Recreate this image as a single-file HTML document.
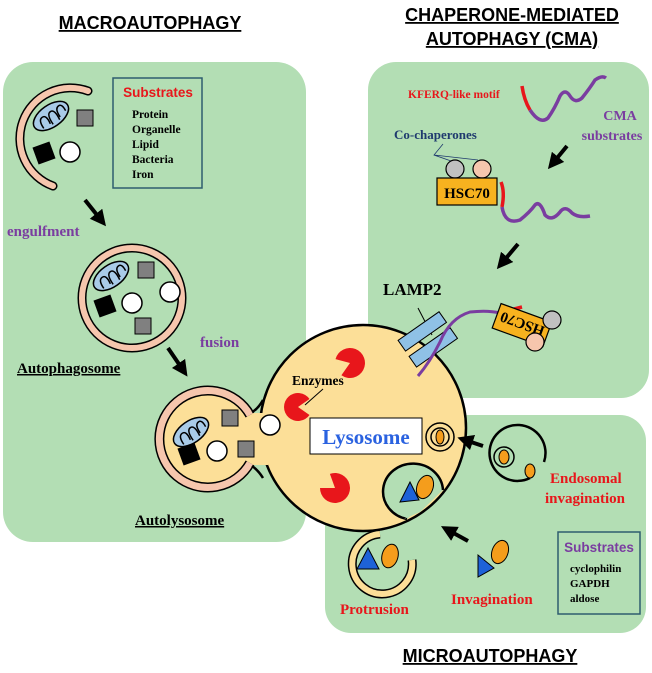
<!DOCTYPE html>
<html><head><meta charset="utf-8"><style>
body{margin:0;background:#fff}
svg{display:block}
.t{font-family:"Liberation Serif",serif;font-weight:bold}
.h{font-family:"Liberation Sans",sans-serif;font-weight:bold;font-size:18px;text-decoration:underline}
</style></head><body>
<svg width="652" height="673" viewBox="0 0 652 673" xmlns="http://www.w3.org/2000/svg">
<defs>
<marker id="ar" markerWidth="4" markerHeight="4" refX="2" refY="2" orient="auto" markerUnits="strokeWidth"><path d="M0,0L4,2L0,4z" fill="#000"/></marker>
<g id="mito"><ellipse cx="0" cy="0" rx="20" ry="11" fill="#a9cbe8" stroke="#000" stroke-width="1.5"/><path d="M-13,6 q0,-10 5,-10 q5,0 3,10 M-3,8 q0,-12 5,-12 q5,0 3,12 M7,6 q0,-10 5,-10 q4,0 3,8" fill="none" stroke="#000" stroke-width="1.5"/></g>
</defs>
<text x="150" y="29" text-anchor="middle" class="h">MACROAUTOPHAGY</text>
<text x="512" y="21" text-anchor="middle" class="h">CHAPERONE-MEDIATED</text>
<text x="512" y="45" text-anchor="middle" class="h">AUTOPHAGY (CMA)</text>
<text x="490" y="662" text-anchor="middle" class="h">MICROAUTOPHAGY</text>
<!-- panels -->
<rect x="3" y="62" width="303" height="480" rx="30" fill="#b3deb4"/>
<rect x="368" y="62" width="281" height="336" rx="28" fill="#b3deb4"/>
<rect x="325" y="415" width="321" height="218" rx="26" fill="#b3deb4"/>
<!-- phagophore -->
<path d="M88,91 A48,48 0 1,0 53,186" fill="none" stroke="#000" stroke-width="9" stroke-linecap="round"/>
<path d="M88,91 A48,48 0 1,0 53,186" fill="none" stroke="#f6c6ad" stroke-width="6" stroke-linecap="round"/>
<use href="#mito" transform="translate(51,116) rotate(-35)"/>
<rect x="77" y="110" width="16" height="16" fill="#808080" stroke="#000"/>
<rect x="35" y="144" width="18" height="18" fill="#000" transform="rotate(-20 44 153)"/>
<circle cx="70" cy="152" r="10" fill="#fff" stroke="#000" stroke-width="1.5"/>
<rect x="113" y="78" width="89" height="110" fill="none" stroke="#2e5d6e" stroke-width="1.5"/>
<text x="158" y="97" text-anchor="middle" font-family="Liberation Sans,sans-serif" font-weight="bold" font-size="13.5" fill="#e8161b">Substrates</text>
<g class="t" font-size="11.5"><text x="132" y="118">Protein</text><text x="132" y="133">Organelle</text><text x="132" y="148">Lipid</text><text x="132" y="163">Bacteria</text><text x="132" y="178">Iron</text></g>
<line x1="85" y1="200" x2="101" y2="220" stroke="#000" stroke-width="4" marker-end="url(#ar)"/>
<text x="7" y="236" class="t" font-size="15" fill="#7a3da0">engulfment</text>
<!-- autophagosome -->
<circle cx="132" cy="298" r="50" fill="#b3deb4" stroke="#000" stroke-width="9"/>
<circle cx="132" cy="298" r="50" fill="none" stroke="#f6c6ad" stroke-width="6"/>
<use href="#mito" transform="translate(111,276) rotate(-35)"/>
<rect x="138" y="262" width="16" height="16" fill="#808080" stroke="#000"/>
<circle cx="170" cy="292" r="10" fill="#fff" stroke="#000" stroke-width="1.5"/>
<circle cx="132" cy="303" r="10" fill="#fff" stroke="#000" stroke-width="1.5"/>
<rect x="96" y="297" width="18" height="18" fill="#000" transform="rotate(-20 105 306)"/>
<rect x="135" y="318" width="16" height="16" fill="#808080" stroke="#000"/>
<text x="17" y="373" class="t" font-size="15" text-decoration="underline">Autophagosome</text>
<text x="200" y="347" class="t" font-size="15" fill="#7a3da0">fusion</text>
<line x1="168" y1="348" x2="183" y2="370" stroke="#000" stroke-width="4" marker-end="url(#ar)"/>
<!-- lysosome -->
<circle cx="363" cy="428" r="103" fill="#fcdf98" stroke="#000" stroke-width="2.5"/>
<circle cx="208" cy="439" r="45" fill="#fcdf98"/>
<rect x="240" y="413" width="28" height="52" fill="#fcdf98"/>
<path d="M250,415 A48.5,48.5 0 1,0 250,463" fill="none" stroke="#000" stroke-width="10"/>
<path d="M250,415 A48.5,48.5 0 1,0 250,463" fill="none" stroke="#f6c6ad" stroke-width="7"/>
<path d="M252,412 Q258,409 263,400 M252,466 Q258,470 263,478" fill="none" stroke="#000" stroke-width="2.5"/>
<use href="#mito" transform="translate(191,432) rotate(-35)"/>
<rect x="222" y="410" width="16" height="16" fill="#808080" stroke="#000"/>
<rect x="238" y="441" width="16" height="16" fill="#808080" stroke="#000"/>
<circle cx="217" cy="451" r="10" fill="#fff" stroke="#000" stroke-width="1.5"/>
<rect x="180" y="445" width="18" height="18" fill="#000" transform="rotate(-20 189 454)"/>
<circle cx="270" cy="425" r="10" fill="#fff" stroke="#000" stroke-width="1.5"/>
<text x="135" y="525" class="t" font-size="15" text-decoration="underline">Autolysosome</text>
<!-- enzymes -->
<g fill="#e8161b">
<path d="M350,363 L335.5,359.1 A15,15 0 1,1 341.4,375.3 Z"/>
<path d="M298,407 L309.5,415 A14,14 0 1,1 309.5,399 Z"/>
<path d="M335,488 L329.9,473.9 A15,15 0 1,1 320,488 Z"/>
</g>
<text x="292" y="385" class="t" font-size="13.5">Enzymes</text>
<line x1="323" y1="389" x2="305" y2="405" stroke="#000" stroke-width="1"/>
<rect x="310" y="418" width="112" height="36" fill="#fff" stroke="#000" stroke-width="1"/>
<text x="366" y="444" text-anchor="middle" class="t" font-size="21" fill="#2a62e0">Lysosome</text>
<!-- micro in-lysosome vesicle -->
<circle cx="440" cy="437" r="14" fill="#fcdf98" stroke="#000" stroke-width="1.5"/>
<circle cx="440" cy="437" r="9" fill="none" stroke="#000" stroke-width="1.5"/>
<ellipse cx="440" cy="437" rx="4" ry="7" fill="#f59d1c" stroke="#000" stroke-width="1"/>
<!-- invagination pocket -->
<path d="M443,490 A30,28 0 1,0 407,519" fill="#b3deb4" stroke="#000" stroke-width="2.5"/>
<path d="M404,519 L420,512 L443,490" fill="#b3deb4"/>
<polygon points="410,482 400,502 419,500" fill="#1e62d8" stroke="#000"/>
<ellipse cx="425" cy="487" rx="8" ry="12" transform="rotate(20 425 487)" fill="#f59d1c" stroke="#000"/>
<!-- protrusion -->
<path d="M412,560 A30,30 0 1,1 380,534" fill="none" stroke="#000" stroke-width="9"/>
<path d="M412,560 A30,30 0 1,1 380,534" fill="none" stroke="#fcdf98" stroke-width="6"/>
<polygon points="368,548 357,569 379,569" fill="#1e62d8" stroke="#000"/>
<ellipse cx="390" cy="556" rx="8" ry="12" transform="rotate(15 390 556)" fill="#f59d1c" stroke="#000"/>
<text x="340" y="614" class="t" font-size="15" fill="#e8161b">Protrusion</text>
<!-- endosome -->
<path d="M530,478 A28,28 0 1,1 544,462" fill="#b3deb4" stroke="#000" stroke-width="2.5"/>
<circle cx="504" cy="457" r="10" fill="none" stroke="#000" stroke-width="1.5"/>
<ellipse cx="504" cy="457" rx="5" ry="7" fill="#f59d1c" stroke="#000"/>
<ellipse cx="530" cy="471" rx="5" ry="7" fill="#f59d1c" stroke="#000"/>
<line x1="483" y1="446" x2="465" y2="440" stroke="#000" stroke-width="4" marker-end="url(#ar)"/>
<text x="550" y="483" class="t" font-size="15" fill="#e8161b">Endosomal</text>
<text x="545" y="503" class="t" font-size="15" fill="#e8161b">invagination</text>
<line x1="468" y1="541" x2="448" y2="530" stroke="#000" stroke-width="4" marker-end="url(#ar)"/>
<polygon points="478,555 478,577 494,568" fill="#1e62d8" stroke="#000"/>
<ellipse cx="500" cy="552" rx="8" ry="12" transform="rotate(20 500 552)" fill="#f59d1c" stroke="#000"/>
<text x="451" y="604" class="t" font-size="15" fill="#e8161b">Invagination</text>
<rect x="558" y="532" width="82" height="82" fill="none" stroke="#2e5d6e" stroke-width="1.5"/>
<text x="599" y="552" text-anchor="middle" font-family="Liberation Sans,sans-serif" font-weight="bold" font-size="13.5" fill="#7a3da0">Substrates</text>
<g class="t" font-size="11"><text x="570" y="572">cyclophilin</text><text x="570" y="587">GAPDH</text><text x="570" y="602">aldose</text></g>
<!-- CMA -->
<text x="408" y="98" class="t" font-size="11.5" fill="#e8161b">KFERQ-like motif</text>
<path d="M522,86 Q524,100 530,110" fill="none" stroke="#e8161b" stroke-width="3.5"/>
<path d="M530,110 Q540,125 548,118 Q555,108 560,96 Q565,88 570,96 Q575,104 582,98 Q590,88 595,80 Q602,75 606,78" fill="none" stroke="#7a3da0" stroke-width="3.5"/>
<text x="620" y="120" text-anchor="middle" class="t" font-size="14" fill="#7a3da0">CMA</text>
<text x="612" y="140" text-anchor="middle" class="t" font-size="14" fill="#7a3da0">substrates</text>
<text x="394" y="139" class="t" font-size="13" fill="#1f3a6e">Co-chaperones</text>
<path d="M443,144 L434,155 L454,162 M434,155 L478,160" fill="none" stroke="#1f3a6e" stroke-width="0.8"/>
<circle cx="455" cy="169" r="9" fill="#c0c0c0" stroke="#000" stroke-width="1.2"/>
<circle cx="482" cy="169" r="9" fill="#f6c6ad" stroke="#000" stroke-width="1.2"/>
<rect x="437" y="178" width="60" height="27" fill="#f7b21f" stroke="#000" stroke-width="1.2"/>
<text x="467" y="198" text-anchor="middle" class="t" font-size="15">HSC70</text>
<path d="M501,182 Q505,192 502,207" fill="none" stroke="#e8161b" stroke-width="3.5"/>
<path d="M502,207 Q505,225 520,220 Q530,212 535,205 Q540,200 545,215 Q552,222 560,212 Q565,205 572,213 Q578,218 590,216" fill="none" stroke="#7a3da0" stroke-width="3.5"/>
<line x1="567" y1="146" x2="553" y2="163" stroke="#000" stroke-width="4" marker-end="url(#ar)"/>
<line x1="518" y1="244" x2="502" y2="263" stroke="#000" stroke-width="4" marker-end="url(#ar)"/>
<text x="383" y="295" class="t" font-size="17">LAMP2</text>
<line x1="418" y1="308" x2="432" y2="335" stroke="#000" stroke-width="1"/>
<rect x="-6" y="-25" width="13" height="50" fill="#8fc1e6" stroke="#000" stroke-width="1" transform="translate(422,331) rotate(55)"/>
<rect x="-6" y="-25" width="13" height="50" fill="#8fc1e6" stroke="#000" stroke-width="1" transform="translate(433,347) rotate(55)"/>
<path d="M418,376 Q430,362 440,342 Q450,318 470,312 Q488,310 500,313" fill="none" stroke="#7a3da0" stroke-width="3"/>
<path d="M500,313 Q510,310 522,307" fill="none" stroke="#e8161b" stroke-width="3.5"/>
<g transform="translate(522,325) rotate(200)">
<rect x="-27" y="-13" width="54" height="26" fill="#f7b21f" stroke="#000" stroke-width="1.2"/>
<text x="0" y="6" text-anchor="middle" class="t" font-size="15">HSC70</text></g>
<circle cx="552" cy="320" r="9" fill="#c0c0c0" stroke="#000" stroke-width="1.2"/>
<circle cx="535" cy="342" r="9" fill="#f6c6ad" stroke="#000" stroke-width="1.2"/>
</svg>
</body></html>
